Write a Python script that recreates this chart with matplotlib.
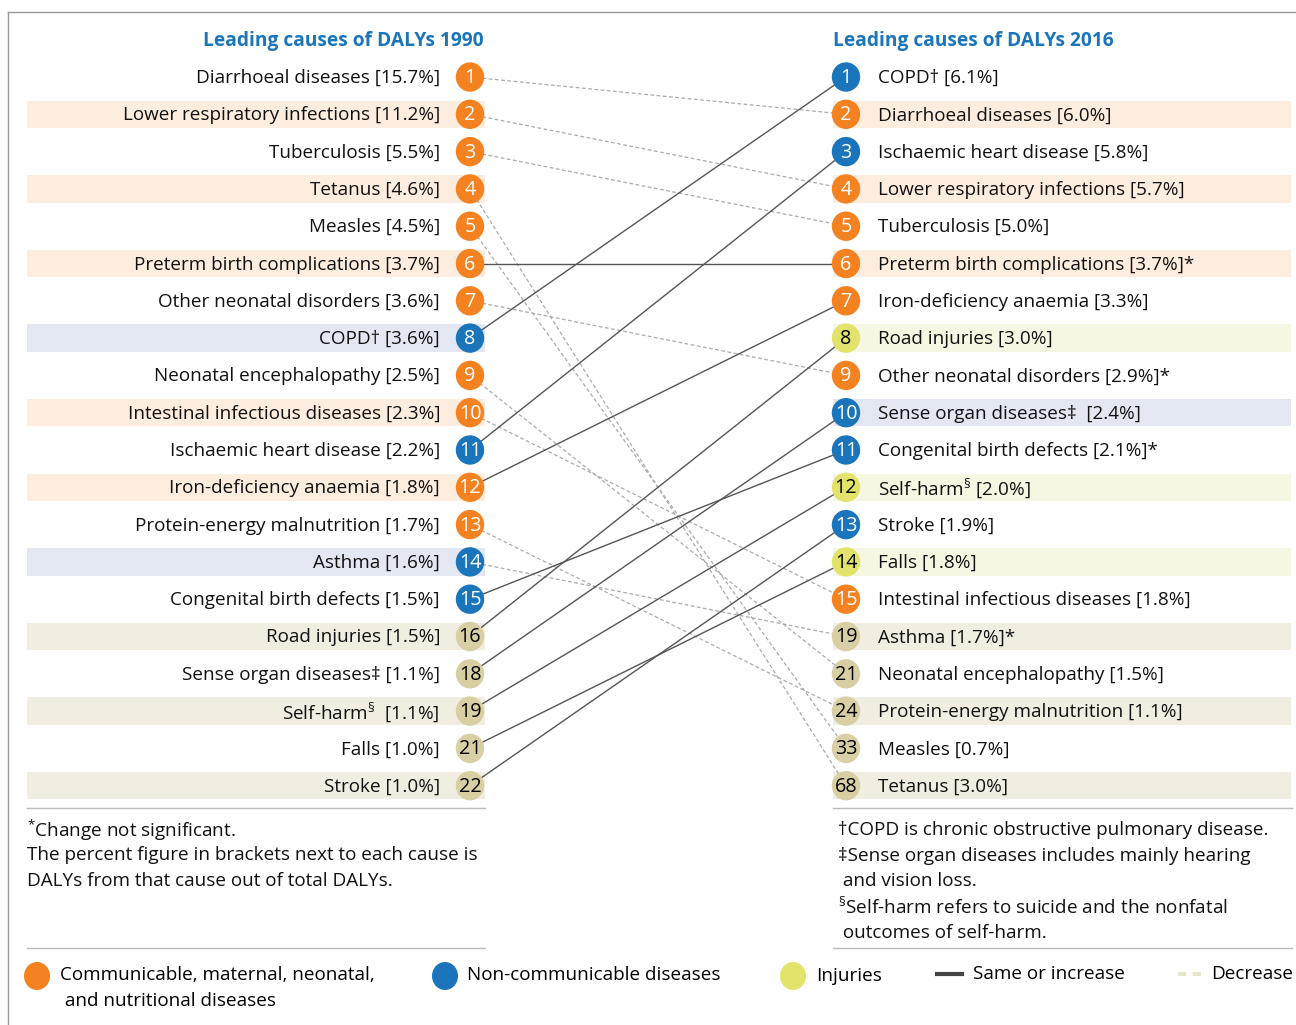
import matplotlib
matplotlib.use("Agg")
import matplotlib.pyplot as plt
from matplotlib.patches import Ellipse, Rectangle

plt.rcParams['font.family'] = ['Open Sans', 'DejaVu Sans']
plt.rcParams['mathtext.fontset'] = 'custom'
plt.rcParams['mathtext.rm'] = 'Open Sans'
plt.rcParams['mathtext.it'] = 'Open Sans'

# ---------------- data ----------------
left_title = "Leading causes of DALYs 1990"
right_title = "Leading causes of DALYs 2016"

causes_1990 = ["Diarrhoeal diseases", "Lower respiratory infections", "Tuberculosis", "Tetanus",
               "Measles", "Preterm birth complications", "Other neonatal disorders", "COPD†",
               "Neonatal encephalopathy", "Intestinal infectious diseases", "Ischaemic heart disease",
               "Iron-deficiency anaemia", "Protein-energy malnutrition", "Asthma",
               "Congenital birth defects", "Road injuries", "Sense organ diseases‡", "Self-harm§",
               "Falls", "Stroke"]
ranks_1990 = [1, 2, 3, 4, 5, 6, 7, 8, 9, 10, 11, 12, 13, 14, 15, 16, 18, 19, 21, 22]
pct_1990 = ["15.7", "11.2", "5.5", "4.6", "4.5", "3.7", "3.6", "3.6", "2.5", "2.3", "2.2",
            "1.8", "1.7", "1.6", "1.5", "1.5", "1.1", "1.1", "1.0", "1.0"]
cat_1990 = ["C", "C", "C", "C", "C", "C", "C", "N", "C", "C", "N", "C", "C", "N", "N",
            "I", "N", "I", "I", "N"]

causes_2016 = ["COPD†", "Diarrhoeal diseases", "Ischaemic heart disease", "Lower respiratory infections",
               "Tuberculosis", "Preterm birth complications", "Iron-deficiency anaemia", "Road injuries",
               "Other neonatal disorders", "Sense organ diseases‡", "Congenital birth defects",
               "Self-harm§", "Stroke", "Falls", "Intestinal infectious diseases", "Asthma",
               "Neonatal encephalopathy", "Protein-energy malnutrition", "Measles", "Tetanus"]
ranks_2016 = [1, 2, 3, 4, 5, 6, 7, 8, 9, 10, 11, 12, 13, 14, 15, 19, 21, 24, 33, 68]
pct_2016 = ["6.1", "6.0", "5.8", "5.7", "5.0", "3.7", "3.3", "3.0", "2.9", "2.4", "2.1",
            "2.0", "1.9", "1.8", "1.8", "1.7", "1.5", "1.1", "0.7", "3.0"]
notsig_2016 = [False, False, False, False, False, True, False, False, True, False, True,
               False, False, False, False, True, False, False, False, False]
cat_2016 = ["N", "C", "N", "C", "C", "C", "C", "I", "C", "N", "N", "I", "N", "I", "C",
            "N", "C", "C", "C", "C"]

legend_labels = ["Communicable, maternal, neonatal,\n and nutritional diseases",
                 "Non-communicable diseases", "Injuries", "Same or increase", "Decrease"]

left_notes = ["$^{*}$Change not significant.",
              "The percent figure in brackets next to each cause is",
              "DALYs from that cause out of total DALYs."]
right_notes = ["†COPD is chronic obstructive pulmonary disease.",
               "‡Sense organ diseases includes mainly hearing",
               " and vision loss.",
               "$^{§}$Self-harm refers to suicide and the nonfatal",
               " outcomes of self-harm."]

# ---------------- style ----------------
CIRCLE = {"C": "#f58220", "N": "#1a75bb", "I": "#e1e36b", "T": "#d8d0a4"}
BAND = {"C": "#fdeddf", "N": "#e3e7f2", "I": "#f6f7e3", "T": "#f1eee1"}
NUMCOL = {"C": "white", "N": "white", "I": "black", "T": "black"}
TITLE_COL = "#1a75bb"
FS = 13.6
NFS = 14.2

W, H = 1296, 1025
fig = plt.figure(figsize=(W / 100, H / 100), dpi=100)
ax = fig.add_axes([0, 0, 1, 1])
ax.set_xlim(0, W)
ax.set_ylim(H, 0)
ax.axis("off")

row_y0, row_dy = 77, 37.3
lx_c, rx_c = 470, 846
r_c = 14.2
band_h = 27.5


def row_y(i):
    return row_y0 + i * row_dy


def key(cat, rank):
    return "T" if rank > 15 else cat


def fmt(name, pct, star=False):
    s = f"{name} [{pct}%]"
    if name.endswith("§"):
        s = name[:-1] + "$^{§}$ [" + pct + "%]"
    if star:
        s += "*"
    return s

# outer frame lines
ax.plot([8, 8], [12, H], color="#999999", lw=1.0)
ax.plot([8, W], [12, 12], color="#999999", lw=1.0)

# titles
ax.text(484, 41, left_title, ha="right", va="center", color=TITLE_COL,
        fontsize=13.8, fontweight="bold")
ax.text(833, 41, right_title, ha="left", va="center", color=TITLE_COL,
        fontsize=13.8, fontweight="bold")

# bands
for i, (c, r) in enumerate(zip(cat_1990, ranks_1990)):
    if i % 2 == 1:
        ax.add_patch(Rectangle((27, row_y(i) - band_h / 2), 458, band_h,
                               color=BAND[key(c, r)], lw=0, zorder=0))
for i, (c, r) in enumerate(zip(cat_2016, ranks_2016)):
    if i % 2 == 1:
        ax.add_patch(Rectangle((833, row_y(i) - band_h / 2), 458, band_h,
                               color=BAND[key(c, r)], lw=0, zorder=0))

# connecting lines
for i, name in enumerate(causes_1990):
    j = causes_2016.index(name)
    y1, y2 = row_y(i), row_y(j)
    if ranks_2016[j] <= ranks_1990[i]:
        ax.plot([lx_c, rx_c], [y1, y2], color="#555555", lw=1.0, zorder=2)
    else:
        ax.plot([lx_c, rx_c], [y1, y2], color="#aaaaaa", lw=0.9,
                ls=(0, (3, 2)), zorder=2)

# circles and labels
for i, (n, r, p, c) in enumerate(zip(causes_1990, ranks_1990, pct_1990, cat_1990)):
    k = key(c, r)
    y = row_y(i)
    ax.add_patch(Ellipse((lx_c, y), 2 * r_c, 2 * r_c + 1, color=CIRCLE[k], lw=0, zorder=3))
    ax.text(lx_c, y + 1, str(r), ha="center", va="center", color=NUMCOL[k],
            fontsize=NFS, zorder=4)
    label = fmt(n, p)
    if n.startswith("Self-harm"):
        label = "Self-harm$^{§}$  [" + p + "%]"
    ax.text(440, y + 1, label, ha="right", va="center", fontsize=FS, color="#111111")

for i, (n, r, p, c, s) in enumerate(zip(causes_2016, ranks_2016, pct_2016, cat_2016, notsig_2016)):
    k = key(c, r)
    y = row_y(i)
    ax.add_patch(Ellipse((rx_c, y), 2 * r_c, 2 * r_c + 1, color=CIRCLE[k], lw=0, zorder=3))
    ax.text(rx_c, y + 1, str(r), ha="center", va="center", color=NUMCOL[k],
            fontsize=NFS, zorder=4)
    label = fmt(n, p, s)
    if n.startswith("Sense organ"):
        label = n + "  [" + p + "%]"
    ax.text(878, y + 1, label, ha="left", va="center", fontsize=FS, color="#111111")

# separators
for yy in (808, 948):
    ax.plot([27, 485], [yy, yy], color="#bbbbbb", lw=1.0)
    ax.plot([833, 1292], [yy, yy], color="#bbbbbb", lw=1.0)

# footnotes
for k_, t in enumerate(left_notes):
    ax.text(27, 830 + k_ * 25.5, t, ha="left", va="center", fontsize=FS, color="#111111")
for k_, t in enumerate(right_notes):
    ax.text(838, 830 + k_ * 25.7, t, ha="left", va="center", fontsize=FS, color="#111111")

# legend
ly = 976
ax.add_patch(Ellipse((37, ly), 26, 28, color=CIRCLE["C"], lw=0))
ax.text(60, ly - 1, legend_labels[0].split("\n")[0], ha="left", va="center", fontsize=FS)
ax.text(60, ly + 25, legend_labels[0].split("\n")[1], ha="left", va="center", fontsize=FS)
ax.add_patch(Ellipse((445, ly), 26, 28, color=CIRCLE["N"], lw=0))
ax.text(467, ly - 1, legend_labels[1], ha="left", va="center", fontsize=FS)
ax.add_patch(Ellipse((793, ly), 26, 28, color=CIRCLE["I"], lw=0))
ax.text(816, ly, legend_labels[2], ha="left", va="center", fontsize=FS)
ax.plot([937, 962], [974, 974], color="#444444", lw=3)
ax.text(973, ly - 2, legend_labels[3], ha="left", va="center", fontsize=FS)
ax.plot([1178, 1203], [974, 974], color="#e6e6cc", lw=3, ls=(0, (2, 1.5)))
ax.text(1211, ly - 2, legend_labels[4], ha="left", va="center", fontsize=FS)

fig.savefig("out.png", dpi=100)
